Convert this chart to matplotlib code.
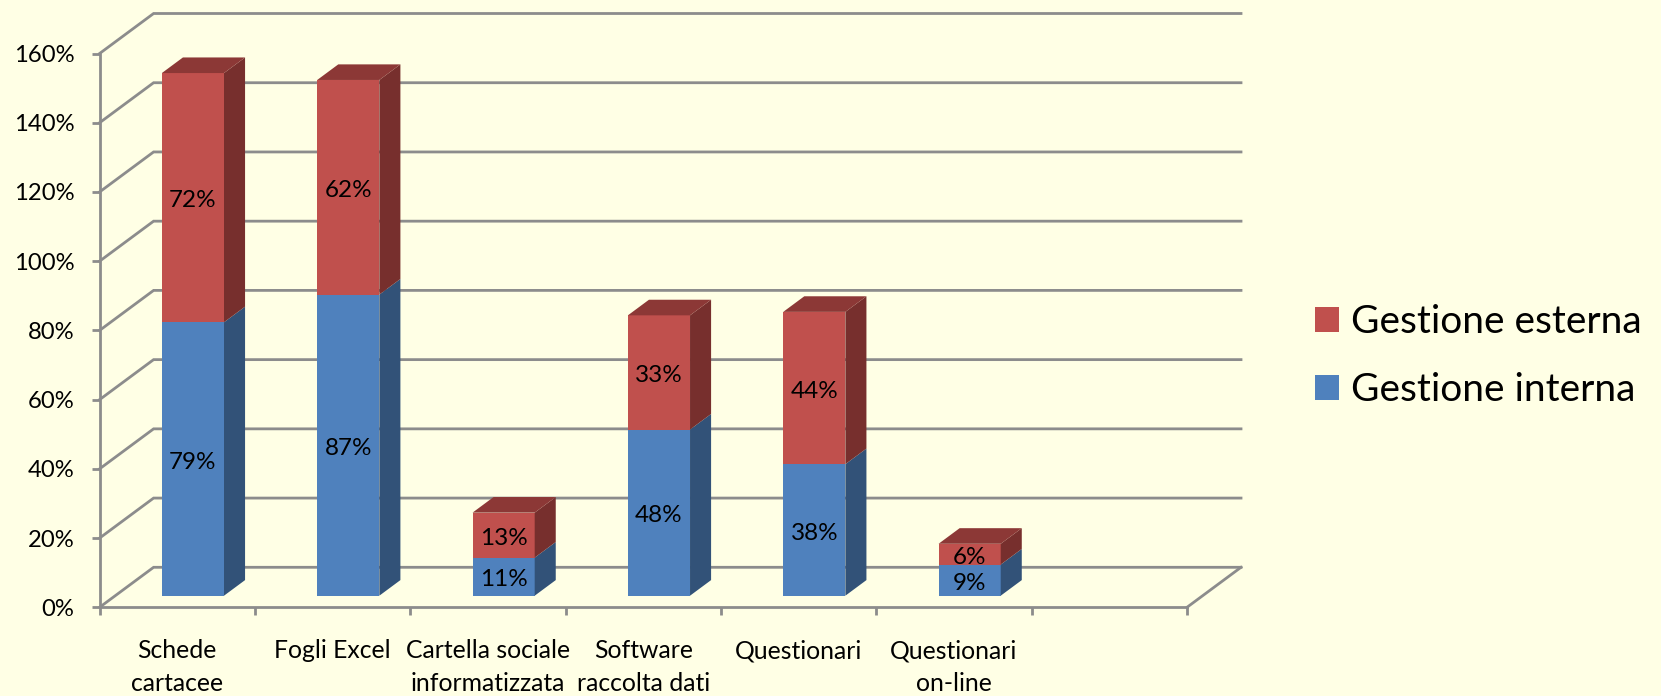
import matplotlib
matplotlib.use("Agg")
import matplotlib.pyplot as plt
from matplotlib.patches import Patch

categories = ["Schede\ncartacee", "Fogli Excel", "Cartella sociale\ninformatizzata",
              "Software\nraccolta dati", "Questionari", "Questionari\non-line", ""]
interna = [79, 87, 11, 48, 38, 9]
esterna = [72, 62, 13, 33, 44, 6]
yticks = [0, 20, 40, 60, 80, 100, 120, 140, 160]

W, H = 1661, 696
L, R, T, B = 99.6, 1187.0, 53.5, 607.3
BG = "#FFFFE5"
GRID = "#8C8C8C"
RED, RED_SIDE, RED_TOP = "#C0504D", "#772F2D", "#8C3836"
BLUE, BLUE_SIDE = "#4F81BD", "#325278"
TXT = "#000000"
LW = 2.0

plt.rcParams["font.family"] = ["Lato", "DejaVu Sans"]
fig = plt.figure(figsize=(W / 100, H / 100), dpi=100, facecolor=BG)
ax = fig.add_axes([L / W, 1 - B / H, (R - L) / W, (B - T) / H], facecolor="none")
ax.set_xlim(-0.5, 6.5)
ax.set_ylim(0, 160)

px_x = (R - L) / 7
px_y = (B - T) / 160
DX, DY = 54.0 / px_x, 40.0 / px_y      # full wall depth in data units
BAR_W = 0.40
D0, D1 = 0.29, 0.68                    # bar front / back depth fraction


def P(x, y, d):
    return x + d * DX, y + d * DY


# walls and gridlines
for v in yticks:
    x0, y0 = P(-0.5, v, 0)
    x1, y1 = P(-0.5, v, 1)
    x2, y2 = P(6.5, v, 1)
    ax.plot([x0, x1, x2], [y0, y1, y2], color=GRID, lw=LW, clip_on=False, zorder=1,
            solid_joinstyle="miter")
x0, y0 = P(6.5, 0, 0)
x1, y1 = P(6.5, 0, 1)
ax.plot([x0, x1], [y0, y1], color=GRID, lw=LW, clip_on=False, zorder=1)


def box(xc, bottom, height, front, side, top=None):
    xl, xr = xc - BAR_W / 2, xc + BAR_W / 2
    bx, by = P(xl, bottom, D0)
    ax.bar(bx + BAR_W / 2, height, BAR_W, bottom=by, color=front, lw=0, clip_on=False, zorder=3)
    pts = [P(xr, bottom, D0), P(xr, bottom, D1), P(xr, bottom + height, D1), P(xr, bottom + height, D0)]
    ax.fill(*zip(*pts), color=side, lw=0, clip_on=False, zorder=3)
    if top:
        t = bottom + height
        pts = [P(xl, t, D0), P(xr, t, D0), P(xr, t, D1), P(xl, t, D1)]
        ax.fill(*zip(*pts), color=top, lw=0, clip_on=False, zorder=3)


for i, (a, b) in enumerate(zip(interna, esterna)):
    box(i, 0, a, BLUE, BLUE_SIDE)
    box(i, a, b, RED, RED_SIDE, RED_TOP)
    for base, v in ((0, a), (a, b)):
        tx, ty = P(i, base + v / 2, D0)
        ax.annotate(f"{v}%", (tx, ty), xytext=(0, -2.3), textcoords="offset points",
                    ha="center", va="center", fontsize=17.5, color=TXT, zorder=4)

# axes
for s in ("top", "right"):
    ax.spines[s].set_visible(False)
for s in ("left", "bottom"):
    ax.spines[s].set_color(GRID)
    ax.spines[s].set_linewidth(LW)
ax.set_yticks(yticks)
ax.set_yticklabels([f"{v}%" for v in yticks])
ax.tick_params(axis="y", length=5.8, width=LW, color=GRID, pad=12.3, labelsize=17.2, labelcolor=TXT)
ax.set_xticks([i - 0.5 for i in range(8)])
ax.set_xticklabels([])
ax.set_xticks(range(7), minor=True)
ax.set_xticklabels(categories, minor=True, linespacing=1.5)
ax.tick_params(axis="x", which="major", length=5.8, width=LW, color=GRID)
ax.tick_params(axis="x", which="minor", length=0, pad=23, labelsize=17.8, labelcolor=TXT)

handles = [Patch(facecolor=RED, label="Gestione esterna"), Patch(facecolor=BLUE, label="Gestione interna")]
fig.legend(handles=handles, loc="upper left", bbox_to_anchor=(1315 / W, 1 - 304 / H), frameon=False,
           fontsize=28, borderpad=0, borderaxespad=0, handlelength=0.625, handleheight=0.625,
           handletextpad=0.31, labelspacing=0.83, labelcolor=TXT)

fig.savefig("out.png", dpi=100, facecolor=BG)
